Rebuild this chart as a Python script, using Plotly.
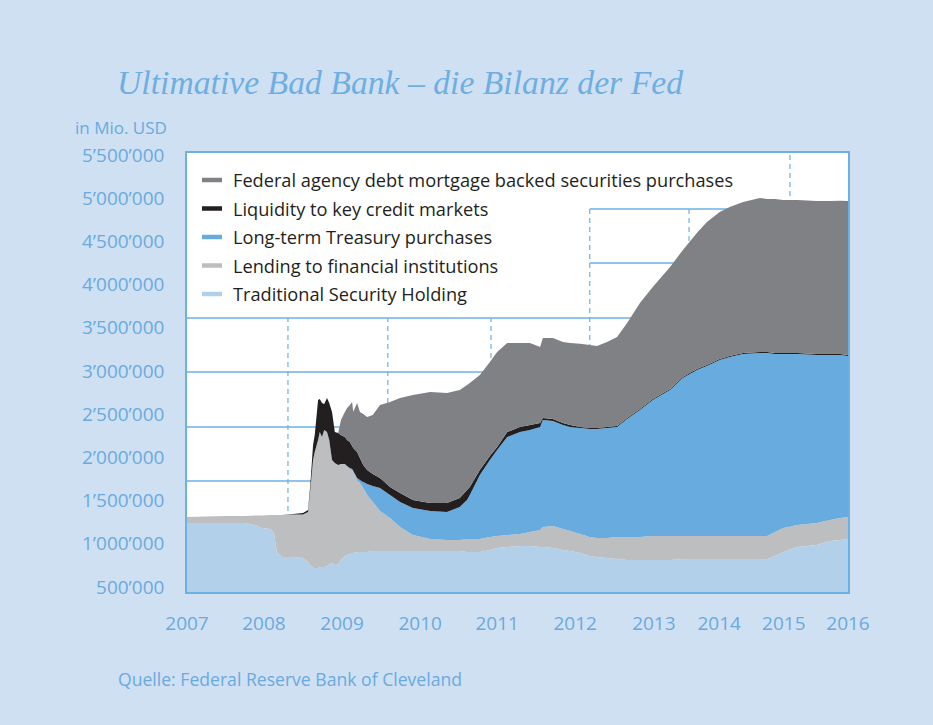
import plotly.graph_objects as go

# ---------------- data (values in thousand USD) ----------------
months = [0.0, 3.2, 6.8, 10.4, 12.2, 13.4, 14.9, 15.6, 16.1, 17.0,
          19.0, 20.8, 21.7, 22.1, 22.6, 22.9, 23.5, 23.8, 24.2, 24.6,
          25.1, 25.5, 26.0, 26.5, 27.1, 27.6, 28.3, 28.7, 29.2, 29.6,
          29.8, 30.5, 31.0, 31.6, 32.3, 33.3, 34.6, 36.4, 38.2, 40.5,
          43.6, 46.6, 48.9, 50.2, 50.7, 52.5, 54.3, 55.6, 57.4, 59.7,
          61.5, 63.3, 63.8, 65.6, 67.4, 68.7, 70.5, 72.2, 73.5, 75.3,
          77.1, 78.9, 81.2, 83.5, 86.6, 88.9, 91.4, 93.2, 95.5, 97.3,
          99.7, 102.7, 104.0, 105.4, 106.9, 109.4, 112.9, 115.3, 117.1, 118.5]

traditional = [1241, 1241, 1241, 1241, 1218, 1183, 1171, 1125, 905, 847,
               847, 836, 789, 755, 720, 720, 720, 731, 731, 731,
               743, 766, 778, 755, 766, 812, 859, 870, 882, 894,
               894, 905, 905, 905, 905, 917, 917, 917, 917, 917,
               917, 917, 917, 905, 905, 905, 928, 951, 963, 975,
               975, 963, 963, 951, 928, 917, 894, 859, 847, 836,
               824, 812, 812, 812, 812, 824, 824, 824, 824, 824,
               824, 824, 824, 859, 905, 963, 986, 1032, 1044, 1056]

lending = [69, 75, 81, 81, 110, 145, 162, 208, 428, 486,
           492, 503, 579, 868, 1250, 1343, 1481, 1562, 1505, 1586,
           1551, 1435, 1192, 1181, 1146, 1111, 1065, 1019, 984, 961,
           938, 833, 799, 741, 660, 567, 463, 382, 278, 185,
           139, 127, 127, 150, 150, 150, 150, 139, 139, 139,
           162, 197, 231, 255, 243, 231, 220, 220, 220, 231,
           255, 266, 266, 278, 278, 266, 266, 266, 266, 266,
           266, 266, 266, 278, 278, 255, 255, 243, 255, 255]

treasury = [0, 0, 0, 0, 0, 0, 0, 0, 0, 0,
            0, 0, 0, 0, 0, 0, 0, 0, 0, 0,
            0, 0, 0, 0, 0, 0, 0, 12, 12, 12,
            12, 23, 35, 69, 127, 185, 266, 266, 289, 312,
            324, 324, 382, 451, 509, 741, 891, 995, 1134, 1181,
            1181, 1192, 1238, 1215, 1204, 1204, 1227, 1250, 1262, 1273,
            1273, 1366, 1470, 1574, 1690, 1829, 1921, 1968, 2037, 2072,
            2106, 2118, 2118, 2060, 2014, 1979, 1944, 1910, 1887, 1863]

liquidity = [0, 0, 0, 0, 0, 0, 0, 0, 0, 0,
             6, 17, 23, 58, 174, 197, 463, 382, 394, 301,
             394, 428, 556, 359, 370, 336, 312, 301, 301, 266,
             266, 301, 255, 197, 162, 139, 116, 93, 104, 93,
             93, 104, 104, 116, 93, 58, 46, 35, 58, 58,
             58, 46, 23, 23, 23, 23, 12, 12, 12, 12,
             12, 12, 12, 12, 12, 12, 12, 12, 12, 12,
             12, 12, 12, 12, 12, 12, 12, 12, 12, 12]

agency = [0, 0, 0, 0, 0, 0, 0, 0, 0, 0,
          0, 0, 0, 0, 0, 0, 0, 0, 0, 0,
          0, 0, 0, 0, 0, 174, 289, 370, 428, 509,
          417, 567, 532, 590, 613, 683, 845, 984, 1100, 1215,
          1285, 1273, 1250, 1215, 1204, 1100, 1088, 1100, 1030, 972,
          949, 880, 926, 937, 937, 949, 961, 961, 949, 984,
          1030, 1100, 1227, 1296, 1412, 1470, 1574, 1655, 1701, 1725,
          1748, 1782, 1771, 1782, 1771, 1771, 1771, 1771, 1771, 1782]

series_names = ["Federal agency debt mortgage backed securities purchases",
                "Liquidity to key credit markets",
                "Long-term Treasury purchases",
                "Lending to financial institutions",
                "Traditional Security Holding"]
series_colors = ["#808184", "#231f20", "#68abde", "#bcbec0", "#b3d0eb"]

year_labels = ["2007", "2008", "2009", "2010", "2011", "2012", "2013", "2014", "2015", "2016"]
year_ticks = [0.0, 13.8, 27.8, 41.8, 55.6, 69.6, 83.7, 95.4, 107.0, 118.5]

y_ticks = [500, 1000, 1500, 2000, 2500, 3000, 3500, 4000, 4500, 5000, 5500]
y_labels = ["500’000", "1’000’000", "1’500’000", "2’000’000", "2’500’000", "3’000’000",
            "3’500’000", "4’000’000", "4’500’000", "5’000’000", "5’500’000"]

# decorative grid (as drawn in the original graphic)
hgrid_full = [3613, 2988, 2352, 1727]
hgrid_right = [4875, 4250]
vgrid_low = [18.1, 36.0, 54.5]
vgrid_mid = [72.2, 90.0]
vgrid_high = [108.1]

# ---------------- figure ----------------
BG = "#cfe0f2"
BLUE_TXT = "#6aaade"
LINE = "#6cb0e5"
FONT = "Open Sans"

X_RANGE = [0, 118.5]
Y_RANGE = [442, 5523]

fig = go.Figure()

stack = [("Traditional Security Holding", traditional, series_colors[4]),
         ("Lending to financial institutions", lending, series_colors[3]),
         ("Long-term Treasury purchases", treasury, series_colors[2]),
         ("Liquidity to key credit markets", liquidity, series_colors[1]),
         ("Federal agency debt mortgage backed securities purchases", agency, series_colors[0])]

for name, vals, col in stack:
    fig.add_trace(go.Scatter(x=months, y=vals, name=name, stackgroup="one",
                             mode="none", fillcolor=col, line=dict(width=0),
                             showlegend=False, hoverinfo="skip"))

shapes = []
for yv in hgrid_full:
    shapes.append(dict(type="line", xref="x", yref="y", x0=X_RANGE[0], x1=X_RANGE[1],
                       y0=yv, y1=yv, line=dict(color=LINE, width=1.3), layer="below"))
for yv in hgrid_right:
    shapes.append(dict(type="line", xref="x", yref="y", x0=vgrid_mid[0], x1=X_RANGE[1],
                       y0=yv, y1=yv, line=dict(color=LINE, width=1.3), layer="below"))
for xs, ytop in ((vgrid_low, hgrid_full[0]), (vgrid_mid, hgrid_right[0]), (vgrid_high, Y_RANGE[1])):
    for xv in xs:
        shapes.append(dict(type="line", xref="x", yref="y", x0=xv, x1=xv,
                           y0=Y_RANGE[0], y1=ytop,
                           line=dict(color=LINE, width=1.2, dash="5px,4px"), layer="below"))

# plot area in pixels: left 187, right 848, top 153, bottom 592
L, R, T, B = 187, 848, 153, 592
def px(x):
    return (x - L) / (R - L)
def py(y):
    return (B - y) / (B - T)

annotations = []
leg_y = [180, 208.5, 237, 265.5, 294]
for name, col, yy in zip(series_names, series_colors, leg_y):
    shapes.append(dict(type="line", xref="paper", yref="paper", x0=px(202), x1=px(222),
                       y0=py(yy), y1=py(yy), line=dict(color=col, width=4.5)))
    annotations.append(dict(text=name, xref="paper", yref="paper", x=px(231), y=py(yy),
                            xanchor="left", yanchor="middle", showarrow=False,
                            font=dict(family=FONT, size=18.2, color="#231f20")))

annotations.append(dict(text="Ultimative Bad Bank – die Bilanz der Fed", xref="paper", yref="paper",
                        x=px(115), y=py(82), xanchor="left", yanchor="middle", showarrow=False,
                        font=dict(family="Liberation Serif", size=33.7, color="#6eaee1", style="italic")))
annotations.append(dict(text="in Mio. USD", xref="paper", yref="paper",
                        x=px(169), y=py(128), xanchor="right", yanchor="middle", showarrow=False,
                        font=dict(family=FONT, size=17, color=BLUE_TXT)))
annotations.append(dict(text="Quelle: Federal Reserve Bank of Cleveland", xref="paper", yref="paper",
                        x=px(116), y=py(679), xanchor="left", yanchor="middle", showarrow=False,
                        font=dict(family=FONT, size=17.6, color=BLUE_TXT)))

fig.update_layout(
    width=933, height=725,
    margin=dict(l=L, r=933 - R, t=T, b=725 - B),
    paper_bgcolor=BG, plot_bgcolor="white",
    showlegend=False,
    shapes=shapes, annotations=annotations,
    xaxis=dict(range=X_RANGE, showgrid=False, zeroline=False,
               tickvals=year_ticks, ticktext=year_labels,
               tickfont=dict(family=FONT, size=19, color=BLUE_TXT),
               ticks="", ticklabelstandoff=13,
               showline=True, linecolor=LINE, linewidth=1.5, mirror=True),
    yaxis=dict(range=Y_RANGE, showgrid=False, zeroline=False,
               tickvals=y_ticks, ticktext=y_labels,
               tickfont=dict(family=FONT, size=19, color=BLUE_TXT),
               ticks="", ticklabelstandoff=17,
               showline=True, linecolor=LINE, linewidth=1.5, mirror=True),
)

fig.write_html("out.html")
